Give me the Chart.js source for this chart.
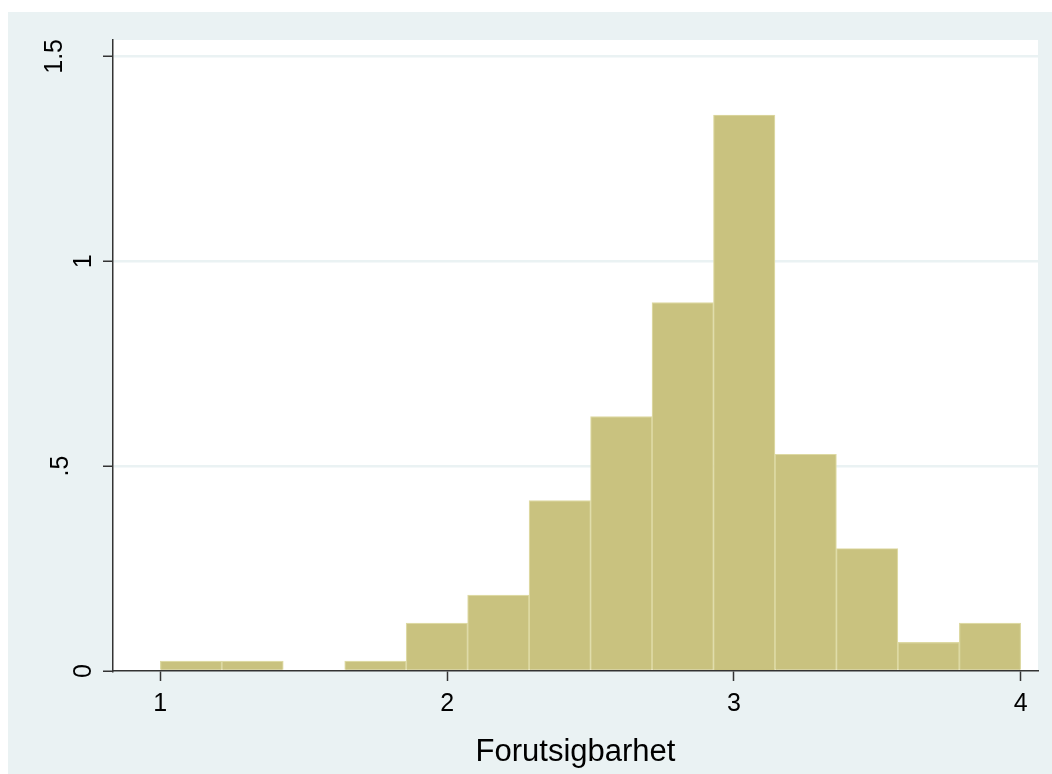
<!DOCTYPE html>
<html>
<head>
<meta charset="utf-8">
<title>Forutsigbarhet</title>
<script src="https://cdn.jsdelivr.net/npm/chart.js@4.4.1/dist/chart.umd.min.js"></script>
<style>
  html, body { margin: 0; padding: 0; background: #ffffff; }
  #graph { position: absolute; left: 8px; top: 12px; width: 1044px; height: 762px; background: #EAF2F3; }
  canvas { display: block; }
</style>
</head>
<body>
<div id="graph"><canvas id="hist" width="1044" height="762"></canvas></div>
<script>
// Histogram bins (14 equal-width bins on 1..4) and their densities
const binEdges = [1, 1.2143, 1.4286, 1.6429, 1.8571, 2.0714, 2.2857, 2.5, 2.7143, 2.9286, 3.1429, 3.3571, 3.5714, 3.7857, 4];
const density  = [0.024, 0.024, 0, 0.024, 0.117, 0.185, 0.416, 0.621, 0.899, 1.357, 0.529, 0.299, 0.070, 0.117];

// Axis ticks and labels
const xTickValues = [1, 2, 3, 4];
const xTickLabels = ['1', '2', '3', '4'];
const yTickValues = [0, 0.5, 1, 1.5];
const yTickLabels = ['0', '.5', '1', '1.5'];
const xTitle = 'Forutsigbarhet';

// each bar sits at the middle of its bin
const bars = density.map((d, i) => ({ x: (binEdges[i] + binEdges[i + 1]) / 2, y: d }));

const FONT = "Arial, 'Liberation Sans', Helvetica, sans-serif";
const AXIS_INK = '#333333';
const GRID = '#EAF2F3';

// rotated y labels: longer ones are pushed further out from the axis
const yLabelShift = { '.5': 23, '1.5': 29 };

const plotBackground = {
  id: 'plotBackground',
  beforeDraw(chart) {
    const { ctx, chartArea: a } = chart;
    ctx.save();
    ctx.fillStyle = '#ffffff';
    ctx.fillRect(a.left, a.top, a.right - a.left, a.bottom - a.top);
    ctx.restore();
  }
};

// fixed axis boxes, without the extra room Chart.js reserves for edge labels
function fixBox(size) {
  return s => {
    if (s.isHorizontal()) s.height = size; else s.width = size;
    s.paddingTop = 0; s.paddingBottom = 0; s.paddingLeft = 0; s.paddingRight = 0;
  };
}

new Chart(document.getElementById('hist'), {
  type: 'bar',
  data: {
    datasets: [{
      data: bars,
      backgroundColor: '#C9C27F',
      borderColor: '#DDD9A3',
      borderWidth: 1.2,
      borderSkipped: 'start',
      barPercentage: 1,
      categoryPercentage: 1
    }]
  },
  options: {
    responsive: false,
    devicePixelRatio: 1,
    animation: false,
    layout: { padding: { left: 0, right: 14, top: 28, bottom: 0 } },
    plugins: { legend: { display: false }, tooltip: { enabled: false } },
    scales: {
      x: {
        type: 'linear',
        min: 0.835,
        max: 4.06,
        offset: false,
        afterBuildTicks: s => { s.ticks = xTickValues.map(v => ({ value: v })); },
        afterFit: fixBox(103),
        ticks: {
          autoSkip: false,
          maxRotation: 0,
          color: '#000000',
          padding: 8,
          font: { family: FONT, size: 25 },
          callback: (v, i) => xTickLabels[i]
        },
        grid: {
          offset: false,
          drawOnChartArea: false,
          drawTicks: true,
          tickLength: 10,
          tickColor: AXIS_INK,
          tickWidth: 1.5
        },
        border: { display: true, color: AXIS_INK, width: 1.5 },
        title: {
          display: true,
          text: xTitle,
          color: '#000000',
          font: { family: FONT, size: 31 },
          padding: { top: 0, bottom: 3 }
        }
      },
      y: {
        type: 'linear',
        min: 0,
        max: 1.54,
        afterBuildTicks: s => { s.ticks = yTickValues.map(v => ({ value: v })); },
        afterFit: fixBox(105),
        ticks: {
          minRotation: 90,
          maxRotation: 90,
          crossAlign: 'center',
          padding: 2,
          color: '#000000',
          font: ctx => {
            const lab = yTickLabels[ctx.index];
            const shift = yLabelShift[lab];
            return { family: FONT, size: 25, lineHeight: shift ? (2 * shift) + 'px' : 1.2 };
          },
          callback: (v, i) => {
            const lab = yTickLabels[i];
            return yLabelShift[lab] ? [lab, ''] : lab;
          }
        },
        grid: {
          color: ctx => (ctx.tick && ctx.tick.value === 0) ? 'rgba(0,0,0,0)' : GRID,
          lineWidth: 2.5,
          drawTicks: true,
          tickLength: 10,
          tickColor: AXIS_INK,
          tickWidth: 1.5
        },
        border: { display: true, color: AXIS_INK, width: 1.5 }
      }
    }
  },
  plugins: [plotBackground]
});
</script>
</body>
</html>
